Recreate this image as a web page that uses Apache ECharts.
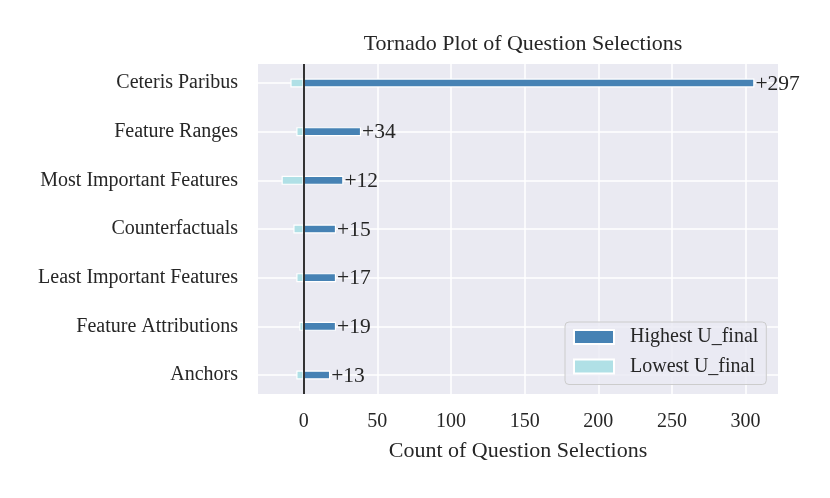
<!DOCTYPE html>
<html>
<head>
<meta charset="utf-8">
<script src="https://cdn.jsdelivr.net/npm/echarts@6/dist/echarts.min.js"></script>
<style>html,body{margin:0;padding:0;background:#fff;}#c{width:830px;height:498px;}</style>
</head>
<body>
<div id="c"></div>
<script>
const categories = ['Ceteris Paribus','Feature Ranges','Most Important Features','Counterfactuals','Least Important Features','Feature Attributions','Anchors'];
const highest = [306, 39, 27, 22, 22, 22, 18];
const lowest = [-9, -5, -15, -7, -5, -3, -5];
const xTicks = [0, 50, 100, 150, 200, 250, 300];

const FONT = 'Liberation Serif';
const TXT = '#262626';
const diffs = highest.map((h, i) => h + lowest[i]);

const chart = echarts.init(document.getElementById('c'));
chart.setOption({
  animation: false,
  textStyle: { fontFamily: FONT, color: TXT },
  title: {
    text: 'Tornado Plot of Question Selections',
    left: 518, top: 28, textAlign: 'center',
    textStyle: { fontFamily: FONT, fontSize: 22, fontWeight: 'normal', color: TXT }
  },
  legend: {
    orient: 'vertical',
    left: 565, top: 322,
    itemWidth: 40, itemHeight: 14, itemGap: 7.5,
    padding: [4, 8, 7, 8],
    backgroundColor: 'rgba(234,234,242,0.8)',
    borderColor: '#cccccc', borderWidth: 1, borderRadius: 4,
    icon: 'rect',
    textStyle: { fontFamily: FONT, fontSize: 20, color: TXT, lineHeight: 22, padding: [0, 0, 0, 11] },
    data: ['Highest U_final', 'Lowest U_final']
  },
  grid: [
    { left: 258, right: 52, top: 64, bottom: 104, show: true, backgroundColor: '#EAEAF2', borderWidth: 0 },
    { left: 258, right: 52, top: 83, bottom: 123 }
  ],
  xAxis: [
    {
      gridIndex: 0, type: 'value', min: -31, max: 322, splitNumber: 7,
      axisLine: { show: false }, axisTick: { show: false },
      axisLabel: {
        fontFamily: FONT, fontSize: 20, color: TXT, margin: 18,
        showMinLabel: false, showMaxLabel: false,
        formatter: v => xTicks.indexOf(v) >= 0 ? String(v) : ''
      },
      splitLine: { show: true, showMinLine: false, showMaxLine: false, lineStyle: { color: '#ffffff', width: 1.5 } },
      name: 'Count of Question Selections', nameLocation: 'middle', nameGap: 46,
      nameTextStyle: { fontFamily: FONT, fontSize: 22, color: TXT }
    },
    {
      gridIndex: 1, type: 'value', min: -31, max: 322,
      axisLine: { show: false }, axisTick: { show: false }, axisLabel: { show: false }, splitLine: { show: false }
    }
  ],
  yAxis: [
    {
      gridIndex: 0, type: 'value', min: 0, max: 1, show: false
    },
    {
      gridIndex: 1, type: 'category', data: categories, inverse: true, boundaryGap: false,
      axisLine: { show: false }, axisTick: { show: false },
      axisLabel: { fontFamily: FONT, fontSize: 20, color: TXT, margin: 20, padding: [4, 0, 0, 0] },
      splitLine: { show: true, lineStyle: { color: '#ffffff', width: 1.5 } }
    }
  ],
  series: [
    {
      name: 'Lowest U_final', type: 'bar', xAxisIndex: 1, yAxisIndex: 1,
      data: lowest, barWidth: 9, barGap: '-100%',
      itemStyle: { color: '#B0E0E6', borderColor: '#ffffff', borderWidth: 1.2 }
    },
    {
      name: 'Highest U_final', type: 'bar', xAxisIndex: 1, yAxisIndex: 1,
      data: highest, barWidth: 9, barGap: '-100%',
      itemStyle: { color: '#4682B4', borderColor: '#ffffff', borderWidth: 1.2 },
      label: {
        show: true, position: 'right', distance: 1, offset: [0, 1],
        fontFamily: FONT, fontSize: 21.5, color: TXT,
        formatter: p => '+' + diffs[p.dataIndex]
      }
    },
    {
      type: 'scatter', xAxisIndex: 0, yAxisIndex: 0, data: [], z: 10, silent: true,
      markLine: {
        silent: true, symbol: 'none', label: { show: false },
        lineStyle: { color: '#000000', width: 1.6, type: 'solid' },
        data: [{ xAxis: 0 }]
      }
    }
  ]
});
</script>
</body>
</html>
